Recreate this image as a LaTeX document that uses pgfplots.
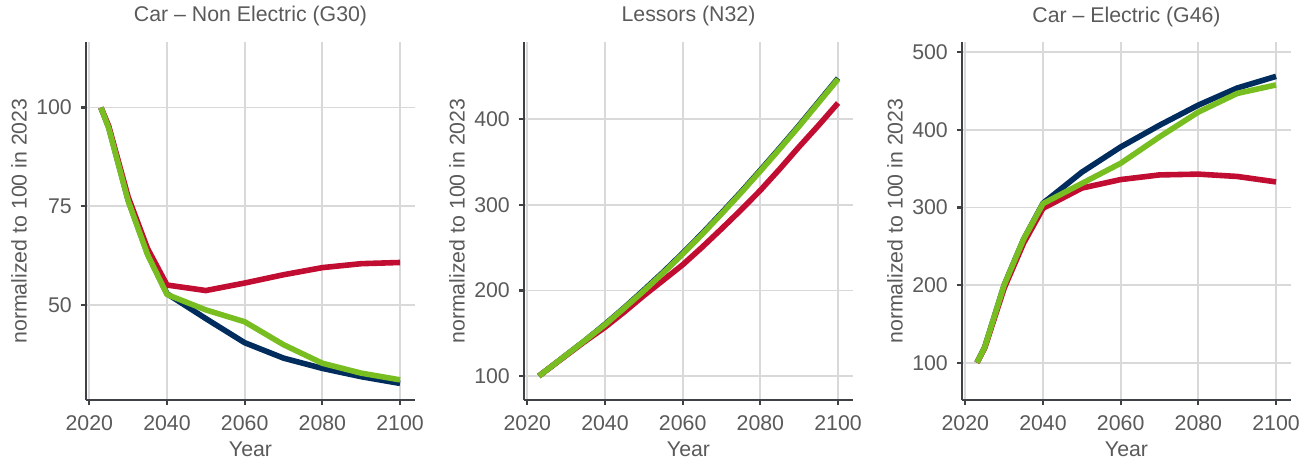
\documentclass[border=0pt]{standalone}
\usepackage{fontspec}
\setmainfont{Liberation Sans}
\usepackage{pgfplots}
\usepackage{pgfplotstable}
\pgfplotsset{compat=1.18}

\definecolor{navyline}{HTML}{002D5E}
\definecolor{redline}{HTML}{C20D32}
\definecolor{greenline}{HTML}{78BE21}
\definecolor{gridgray}{HTML}{D9D9D9}
\definecolor{axisgray}{HTML}{3E4145}
\definecolor{textgray}{HTML}{5A5A5A}

% Car - Non Electric (G30)
\pgfplotstableread{
year navy red green
2023 100  100  100
2025 95.0 95.3 94.8
2030 76.6 77.4 76.4
2035 63.0 64.3 62.8
2040 52.9 55.1 52.7
2050 46.6 53.7 48.8
2060 40.5 55.6 45.8
2070 36.6 57.7 40.0
2080 34.0 59.5 35.3
2090 31.9 60.5 32.8
2100 30.2 60.8 31.1
}\tabcars

% Lessors (N32)
\pgfplotstableread{
year navy red green
2023 100   100   100
2025 107   107   107
2030 124.5 124   124.5
2035 142   141   142
2040 160.5 157   160
2045 180   175   179.5
2050 200.5 194   199.5
2055 221.5 212   220.5
2060 243.5 230   242.5
2065 266.5 250.5 265.5
2070 290.5 272   289.5
2075 315   294   314
2080 340.5 317   339.5
2085 366.5 342   365.5
2090 393   368   392
2095 420.5 393   419.5
2100 448   419   447
}\tablessors

% Car - Electric (G46)
\pgfplotstableread{
year navy red green
2023 100   100 100
2025 120   119 120
2030 200   196 200
2035 259   254 259
2040 305.5 299 305
2050 345.5 325 331
2060 378   336 357
2070 406   342 391
2080 432   343 423
2090 454   340 447
2100 469   333 458
}\tabelectric

\pgfplotsset{
  panel/.style={
    scale only axis, width=329pt, height=358pt,
    anchor=south west,
    xmin=2019.15, xmax=2103.85,
    xtick={2020,2040,...,2100},
    /pgf/number format/1000 sep={},
    /pgf/number format/assume math mode=true,
    axis x line*=bottom, axis y line*=left,
    axis line style={line width=2.4pt, draw=axisgray, -},
    tick style={line width=2.2pt, draw=axisgray},
    tick align=outside, major tick length=5pt,
    grid=major,
    major grid style={line width=1.8pt, draw=gridgray},
    font=\fontsize{21.3}{25}\selectfont,
    every tick label/.append style={text=textgray, font=\fontsize{21.3}{25}\selectfont},
    xticklabel style={anchor=base, yshift=-25pt, inner sep=0pt},
    yticklabel style={anchor=east, inner sep=0pt, xshift=-9pt},
    title style={at={(axis description cs:0.5,1)}, anchor=base, yshift=14pt, text=textgray, inner sep=0pt},
    xlabel style={at={(axis description cs:0.5,0)}, anchor=base, yshift=-56.7pt, text=textgray, inner sep=0pt},
    ylabel style={at={(axis description cs:-0.2036,0.5)}, anchor=center, text=textgray, inner sep=0pt},
    every axis plot/.append style={line width=5.6pt, line join=round, line cap=butt, no markers},
    xlabel={Year},
    ylabel={normalized to 100 in 2023},
  }
}

\begin{document}
\begin{tikzpicture}
\useasboundingbox (0,0) rectangle (1315pt,464pt);

\begin{axis}[panel, at={(86pt,64pt)},
  title={Car – Non Electric (G30)},
  ymin=26, ymax=116.6, ytick={50,75,100}]
  \addplot[navyline] table[x=year, y=navy] {\tabcars};
  \addplot[redline] table[x=year, y=red] {\tabcars};
  \addplot[greenline] table[x=year, y=green] {\tabcars};
\end{axis}

\begin{axis}[panel, at={(524pt,64pt)},
  title={Lessors (N32)},
  ymin=72, ymax=490.3, ytick={100,200,300,400}]
  \addplot[navyline] table[x=year, y=navy] {\tablessors};
  \addplot[redline] table[x=year, y=red] {\tablessors};
  \addplot[greenline] table[x=year, y=green] {\tablessors};
\end{axis}

\begin{axis}[panel, at={(962pt,64pt)},
  title={Car – Electric (G46)},
  ymin=51.9, ymax=513.3, ytick={100,200,300,400,500}]
  \addplot[navyline] table[x=year, y=navy] {\tabelectric};
  \addplot[redline] table[x=year, y=red] {\tabelectric};
  \addplot[greenline] table[x=year, y=green] {\tabelectric};
\end{axis}
\end{tikzpicture}
\end{document}
